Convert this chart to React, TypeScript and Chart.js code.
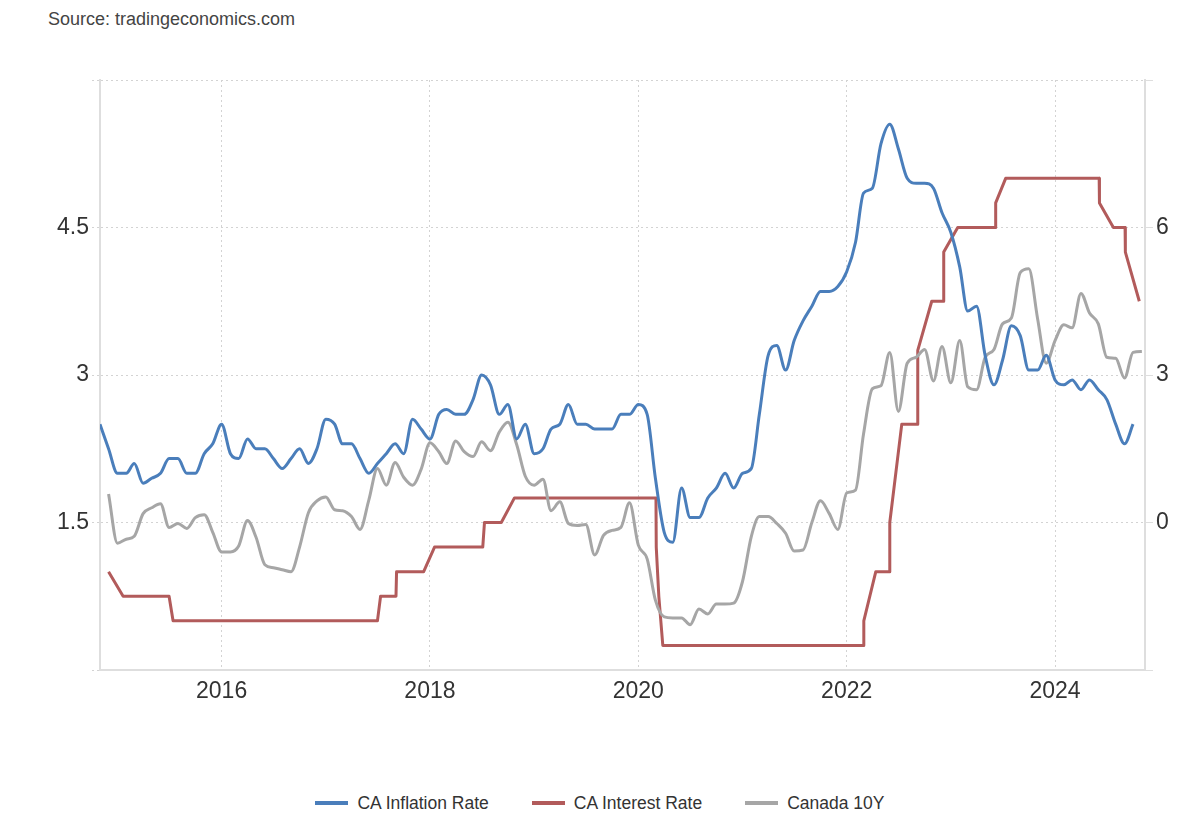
import React, { useEffect, useRef } from "react";
import { Chart, registerables } from "chart.js";

Chart.register(...registerables);

const SOURCE_TEXT = "Source: tradingeconomics.com";
const SERIES_NAMES = ["CA Inflation Rate", "CA Interest Rate", "Canada 10Y"];
const SERIES_COLORS = ["#4a7ebb", "#b25b5b", "#a6a6a6"];

const X_TICK_YEARS = [2016, 2018, 2020, 2022, 2024];
const LEFT_TICKS = [0, 1.5, 3, 4.5, 6];
const RIGHT_TICKS = [-3, 0, 3, 6, 9];
const X_MIN_DATE = "2014-11-01";
const X_MAX_DATE = "2024-11-12";

// CA Inflation Rate (%, monthly, right axis) from Nov 2014
const INFLATION_START = "2014-11";
const INFLATION = [
  2.0, 1.5,
  1.0, 1.0, 1.2, 0.8, 0.9, 1.0, 1.3, 1.3, 1.0, 1.0, 1.4, 1.6,
  2.0, 1.4, 1.3, 1.7, 1.5, 1.5, 1.3, 1.1, 1.3, 1.5, 1.2, 1.5,
  2.1, 2.0, 1.6, 1.6, 1.3, 1.0, 1.2, 1.4, 1.6, 1.4, 2.1, 1.9,
  1.7, 2.2, 2.3, 2.2, 2.2, 2.5, 3.0, 2.8, 2.2, 2.4, 1.7, 2.0,
  1.4, 1.5, 1.9, 2.0, 2.4, 2.0, 2.0, 1.9, 1.9, 1.9, 2.2, 2.2,
  2.4, 2.2, 0.9, -0.2, -0.4, 0.7, 0.1, 0.1, 0.5, 0.7, 1.0, 0.7,
  1.0, 1.1, 2.2, 3.4, 3.6, 3.1, 3.7, 4.1, 4.4, 4.7, 4.7, 4.8,
  5.1, 5.7, 6.7, 6.8, 7.7, 8.1, 7.6, 7.0, 6.9, 6.9, 6.8, 6.3,
  5.9, 5.2, 4.3, 4.4, 3.4, 2.8, 3.3, 4.0, 3.8, 3.1, 3.1, 3.4,
  2.9, 2.8, 2.9, 2.7, 2.9, 2.7, 2.5, 2.0, 1.6, 2.0,
];

// Canada 10Y yield (%, monthly, left axis) from Dec 2014
const BOND_START = "2014-12";
const BOND_10Y = [
  1.79,
  1.29, 1.33, 1.36, 1.59, 1.65, 1.69, 1.45, 1.49, 1.44, 1.55, 1.58, 1.40,
  1.20, 1.20, 1.26, 1.52, 1.35, 1.07, 1.04, 1.02, 1.00, 1.25, 1.60, 1.72,
  1.76, 1.63, 1.62, 1.56, 1.43, 1.73, 2.05, 1.88, 2.11, 1.96, 1.88, 2.04,
  2.31, 2.22, 2.10, 2.33, 2.22, 2.17, 2.32, 2.23, 2.42, 2.52, 2.29, 1.97,
  1.88, 1.94, 1.62, 1.71, 1.49, 1.47, 1.48, 1.17, 1.37, 1.42, 1.45, 1.70,
  1.27, 1.13, 0.71, 0.54, 0.53, 0.53, 0.46, 0.62, 0.57, 0.67, 0.67, 0.68,
  0.90, 1.36, 1.56, 1.56, 1.49, 1.39, 1.21, 1.22, 1.50, 1.72, 1.59, 1.43,
  1.80, 1.83, 2.40, 2.86, 2.89, 3.23, 2.63, 3.12, 3.18, 3.26, 2.94, 3.29,
  2.92, 3.35, 2.88, 2.85, 3.18, 3.26, 3.52, 3.58, 4.04, 4.08, 3.57, 3.12,
  3.35, 3.51, 3.48, 3.83, 3.63, 3.52, 3.18, 3.17, 2.97, 3.23, 3.24,
];

// CA Interest Rate (%, left axis) vertices
const RATE_DATES = [
  "2014-12-01", "2015-01-21", "2015-07-01", "2015-07-15",
  "2017-07-01", "2017-07-12", "2017-09-04", "2017-09-06",
  "2017-12-10", "2018-01-17", "2018-07-05", "2018-07-11",
  "2018-09-08", "2018-10-24", "2020-03-03", "2020-03-04",
  "2020-03-13", "2020-03-27", "2022-03-01", "2022-03-02",
  "2022-04-13", "2022-05-31", "2022-06-01", "2022-07-13",
  "2022-09-06", "2022-09-07", "2022-10-26", "2022-12-06",
  "2022-12-07", "2023-01-25", "2023-06-06", "2023-06-07",
  "2023-07-12", "2024-06-04", "2024-06-05", "2024-07-24",
  "2024-09-03", "2024-09-04", "2024-10-23",
];
const RATE_VALUES = [
  1.0, 0.75, 0.75, 0.5,
  0.5, 0.75, 0.75, 1.0,
  1.0, 1.25, 1.25, 1.5,
  1.5, 1.75, 1.75, 1.25,
  0.75, 0.25, 0.25, 0.5,
  1.0, 1.0, 1.5, 2.5,
  2.5, 3.25, 3.75, 3.75,
  4.25, 4.5, 4.5, 4.75,
  5.0, 5.0, 4.75, 4.5,
  4.5, 4.25, 3.75,
];

function toYear(dateStr: string): number {
  const parts = dateStr.split("-").map(Number);
  const y = parts[0];
  const m = parts[1] || 1;
  const d = parts[2] || 1;
  const t = Date.UTC(y, m - 1, d);
  const s = Date.UTC(y, 0, 1);
  const e = Date.UTC(y + 1, 0, 1);
  return y + (t - s) / (e - s);
}

function monthDate(start: string, i: number): string {
  const [y, m] = start.split("-").map(Number);
  const idx = y * 12 + (m - 1) + i;
  const yy = Math.floor(idx / 12);
  const mm = (idx % 12) + 1;
  return `${yy}-${String(mm).padStart(2, "0")}-01`;
}

const GRID_COLOR = "#d3d3d3";
const AXIS_COLOR = "#dedede";
const LABEL_COLOR = "#333333";
const FONT_FAMILY = '"Liberation Sans", Arial, Helvetica, sans-serif';

export default function App() {
  const ref = useRef<HTMLCanvasElement | null>(null);

  useEffect(() => {
    const canvas = ref.current;
    if (!canvas) return;
    Chart.defaults.font.family = FONT_FAMILY;

    const inflPts = INFLATION.map((v, i) => ({ x: toYear(monthDate(INFLATION_START, i)), y: v }));
    const bondPts = BOND_10Y.map((v, i) => ({ x: toYear(monthDate(BOND_START, i)), y: v }));
    const ratePts = RATE_DATES.map((d, i) => ({ x: toYear(d), y: RATE_VALUES[i] }));

    const chart = new Chart(canvas, {
      type: "line",
      data: {
        datasets: [
          {
            label: SERIES_NAMES[0],
            data: inflPts,
            yAxisID: "y1",
            borderColor: SERIES_COLORS[0],
            backgroundColor: SERIES_COLORS[0],
            borderWidth: 3,
            pointRadius: 0,
            cubicInterpolationMode: "monotone",
            fill: false,
            order: 0,
          },
          {
            label: SERIES_NAMES[1],
            data: ratePts,
            yAxisID: "y",
            borderColor: SERIES_COLORS[1],
            backgroundColor: SERIES_COLORS[1],
            borderWidth: 3,
            pointRadius: 0,
            tension: 0,
            borderJoinStyle: "round",
            fill: false,
            order: 2,
          },
          {
            label: SERIES_NAMES[2],
            data: bondPts,
            yAxisID: "y",
            borderColor: SERIES_COLORS[2],
            backgroundColor: SERIES_COLORS[2],
            borderWidth: 3,
            pointRadius: 0,
            cubicInterpolationMode: "monotone",
            fill: false,
            order: 1,
          },
        ],
      },
      options: {
        responsive: false,
        animation: false,
        devicePixelRatio: 1,
        layout: { padding: { top: 80, left: 0, right: 0, bottom: 0 } },
        plugins: {
          legend: { display: false },
          tooltip: { enabled: false },
          title: { display: false },
        },
        scales: {
          x: {
            type: "linear",
            min: toYear(X_MIN_DATE),
            max: toYear(X_MAX_DATE),
            afterBuildTicks: (axis: any) => {
              axis.ticks = X_TICK_YEARS.map((y) => ({ value: toYear(`${y}-01-01`) }));
            },
            afterFit: (s: any) => {
              s.height = 50;
            },
            ticks: {
              color: LABEL_COLOR,
              font: { size: 23 },
              padding: 8,
              maxRotation: 0,
              autoSkip: false,
              callback: (v: any) => String(Math.round(Number(v))),
            },
            grid: { color: GRID_COLOR, lineWidth: 1, drawTicks: false },
            border: { display: true, color: AXIS_COLOR, width: 2, dash: [2, 3] },
          },
          y: {
            type: "linear",
            position: "left",
            min: 0,
            max: 6,
            afterBuildTicks: (axis: any) => {
              axis.ticks = LEFT_TICKS.map((v) => ({ value: v }));
            },
            afterFit: (s: any) => {
              s.width = 100;
            },
            ticks: {
              color: LABEL_COLOR,
              font: { size: 23 },
              padding: 3,
              callback: (v: any) => (v === LEFT_TICKS[0] || v === LEFT_TICKS[LEFT_TICKS.length - 1] ? "" : String(v)),
            },
            grid: {
              color: GRID_COLOR,
              lineWidth: 1,
              drawTicks: true,
              tickLength: 8,
              tickColor: GRID_COLOR,
              tickBorderDash: [2, 3],
            },
            border: { display: true, color: AXIS_COLOR, width: 2, dash: [2, 3] },
          },
          y1: {
            type: "linear",
            position: "right",
            min: -3,
            max: 9,
            afterBuildTicks: (axis: any) => {
              axis.ticks = RIGHT_TICKS.map((v) => ({ value: v }));
            },
            afterFit: (s: any) => {
              s.width = 55;
            },
            ticks: {
              color: LABEL_COLOR,
              font: { size: 23 },
              padding: 3,
              callback: (v: any) => (v === RIGHT_TICKS[0] || v === RIGHT_TICKS[RIGHT_TICKS.length - 1] ? "" : String(v)),
            },
            grid: {
              drawOnChartArea: false,
              drawTicks: true,
              tickLength: 8,
              tickColor: AXIS_COLOR,
            },
            border: { display: true, color: AXIS_COLOR, width: 2 },
          },
        },
      },
    } as any);

    return () => chart.destroy();
  }, []);

  return (
    <div
      style={{
        position: "absolute",
        left: 0,
        top: 0,
        width: 1200,
        height: 820,
        background: "#ffffff",
        fontFamily: FONT_FAMILY,
      }}
    >
      <div
        style={{
          position: "absolute",
          left: 48,
          top: 9,
          fontSize: 18,
          lineHeight: "20px",
          color: "#444444",
          whiteSpace: "nowrap",
        }}
      >
        {SOURCE_TEXT}
      </div>
      <canvas
        ref={ref}
        width={1200}
        height={720}
        style={{ position: "absolute", left: 0, top: 0, width: 1200, height: 720 }}
      />
      <div
        style={{
          position: "absolute",
          left: 0,
          top: 793,
          width: 1200,
          display: "flex",
          justifyContent: "center",
          gap: 43,
          fontSize: 17.5,
          lineHeight: "20px",
          color: LABEL_COLOR,
        }}
      >
        {SERIES_NAMES.map((name, i) => (
          <div key={name} style={{ display: "flex", alignItems: "center", whiteSpace: "nowrap" }}>
            <span
              style={{
                display: "inline-block",
                width: 33,
                height: 4,
                background: SERIES_COLORS[i],
                marginRight: 9,
              }}
            />
            <span>{name}</span>
          </div>
        ))}
      </div>
    </div>
  );
}
